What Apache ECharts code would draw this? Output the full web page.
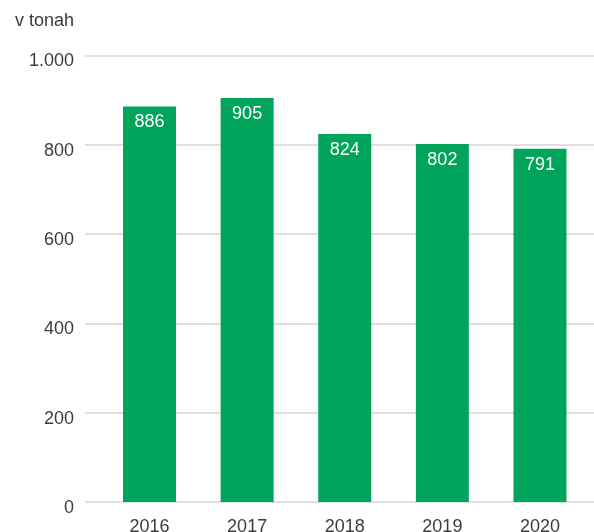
<!DOCTYPE html>
<html>
<head>
<meta charset="utf-8">
<script src="https://cdn.jsdelivr.net/npm/echarts@6/dist/echarts.min.js"></script>
<style>
  html, body { margin: 0; padding: 0; background: #fff; }
  #chart { width: 594px; height: 532px; }
</style>
</head>
<body>
<div id="chart"></div>
<script>
let years = ['2016', '2017', '2018', '2019', '2020']
let tonnes = [886, 905, 824, 802, 791]
let unit_label = 'v tonah'

function fmt_thousands(v) {
    // slovenian style: dot as thousands separator
    return String(v).replace(/\B(?=(\d{3})+(?!\d))/g, '.')
}

const font = 'Liberation Sans, Arial, Helvetica, sans-serif'
const textColor = '#3c3c3c'

let option = {
    animation: false,
    title: {
        text: unit_label,
        left: 10,
        top: 7,
        textStyle: { fontSize: 18, fontWeight: 'normal', color: textColor, fontFamily: font }
    },
    grid: [
        // grid for the value axis and grid lines (full width)
        { left: 85, right: 0, top: 55.5, bottom: 30, outerBoundsMode: 'none' },
        // grid for the bars, slightly inset
        { left: 100.7, right: 5.2, top: 55.5, bottom: 30, outerBoundsMode: 'none' }
    ],
    xAxis: [
        { type: 'category', gridIndex: 0, data: years, show: false },
        {
            type: 'category',
            gridIndex: 1,
            data: years,
            axisLine: { show: false },
            axisTick: { show: false },
            axisLabel: { fontSize: 18, color: textColor, fontFamily: font, margin: 16 }
        }
    ],
    yAxis: [
        {
            type: 'value',
            gridIndex: 0,
            min: 0,
            max: 1000,
            interval: 200,
            axisLine: { show: false },
            axisTick: { show: false },
            splitLine: { lineStyle: { color: '#d6d6d6', width: 1.5 } },
            axisLabel: {
                fontSize: 18,
                color: textColor,
                fontFamily: font,
                margin: 11,
                verticalAlign: 'top',
                lineHeight: 12,
                formatter: fmt_thousands
            }
        },
        { type: 'value', gridIndex: 1, min: 0, max: 1000, show: false }
    ],
    series: [
        {
            type: 'bar',
            xAxisIndex: 1,
            yAxisIndex: 1,
            data: tonnes,
            barWidth: 53,
            itemStyle: { color: '#00a55b' },
            label: {
                show: true,
                position: 'insideTop',
                distance: 7,
                color: '#fff',
                fontSize: 18,
                fontFamily: font
            }
        }
    ]
}

const dom = document.getElementById('chart')
const myChart = echarts.init(dom)
myChart.setOption(option, true)
</script>
</body>
</html>
